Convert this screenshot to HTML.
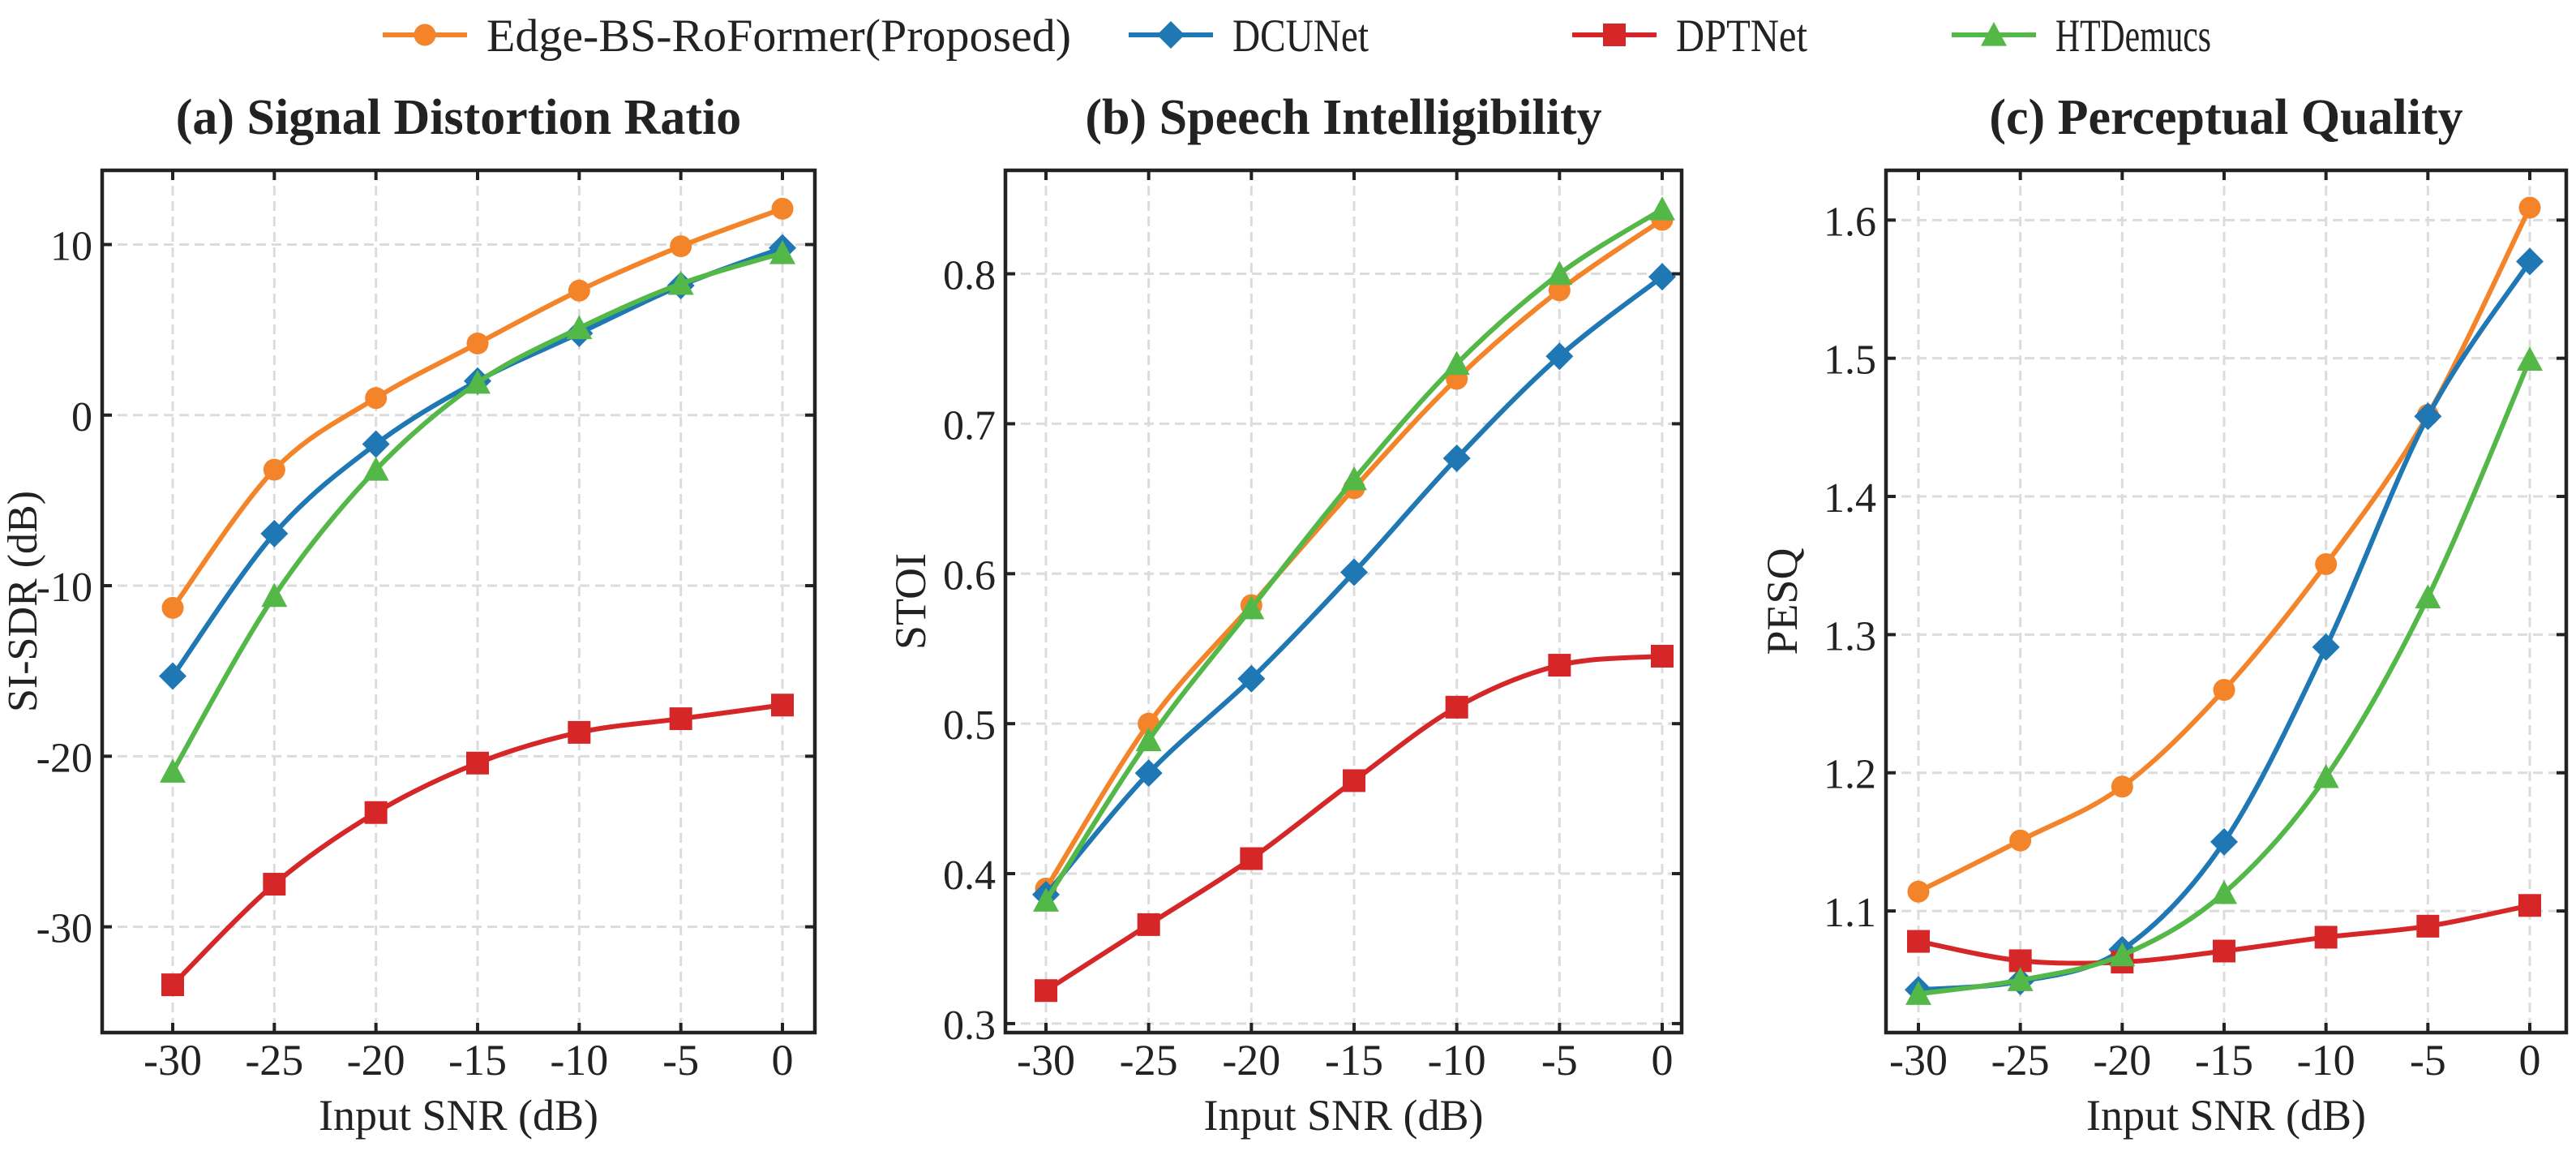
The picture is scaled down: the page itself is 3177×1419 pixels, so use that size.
<!DOCTYPE html>
<html><head><meta charset="utf-8">
<style>
html,body{margin:0;padding:0;background:#fff;}
svg{display:block;font-family:"Liberation Serif","DejaVu Serif",serif;}
</style></head>
<body>
<svg id="fig" width="3177" height="1419" viewBox="0 0 3177 1419" xmlns="http://www.w3.org/2000/svg">
<g id="legend"></g>
<g id="panels"></g>
</svg>
<script>
const snr = [-30, -25, -20, -15, -10, -5, 0];
const xTicks = ["-30", "-25", "-20", "-15", "-10", "-5", "0"];
const seriesNames = ["Edge-BS-RoFormer(Proposed)", "DCUNet", "DPTNet", "HTDemucs"];

const sdrProposed = [-11.3, -3.2, 1.0, 4.2, 7.3, 9.9, 12.1];
const sdrDCUNet   = [-15.3, -6.95, -1.7, 2.0, 4.8, 7.6, 9.8];
const sdrDPTNet   = [-33.4, -27.5, -23.3, -20.4, -18.6, -17.8, -17.0];
const sdrHTDemucs = [-20.9, -10.6, -3.2, 1.9, 5.1, 7.7, 9.5];
const sdrTicks = [-30, -20, -10, 0, 10];

const stoiProposed = [0.390, 0.500, 0.579, 0.657, 0.730, 0.789, 0.836];
const stoiDCUNet   = [0.386, 0.467, 0.530, 0.601, 0.677, 0.745, 0.798];
const stoiDPTNet   = [0.322, 0.366, 0.410, 0.462, 0.511, 0.539, 0.545];
const stoiHTDemucs = [0.382, 0.489, 0.577, 0.663, 0.740, 0.800, 0.843];
const stoiTicks = [0.3, 0.4, 0.5, 0.6, 0.7, 0.8];

const pesqProposed = [1.114, 1.151, 1.190, 1.260, 1.351, 1.459, 1.609];
const pesqDCUNet   = [1.043, 1.049, 1.072, 1.150, 1.291, 1.458, 1.570];
const pesqDPTNet   = [1.078, 1.064, 1.063, 1.071, 1.081, 1.089, 1.104];
const pesqHTDemucs = [1.040, 1.050, 1.068, 1.113, 1.197, 1.327, 1.499];
const pesqTicks = [1.1, 1.2, 1.3, 1.4, 1.5, 1.6];

const NS = "http://www.w3.org/2000/svg";
const colors = ["#f4842a", "#1f77b4", "#d62728", "#54b848"];
const markers = ["circle", "diamond", "square", "triangle"];
const keys = ["proposed", "dcunet", "dptnet", "htdemucs"];

function mk(tag, attrs, parent) {
  const e = document.createElementNS(NS, tag);
  for (const k in attrs) e.setAttribute(k, attrs[k]);
  if (parent) parent.appendChild(e);
  return e;
}

function markerShape(type, cx, cy, color, parent, scale) {
  const s = scale || 1;
  let e;
  if (type === "circle") {
    e = mk("circle", {cx: cx, cy: cy, r: 13.5 * s, fill: color}, parent);
  } else if (type === "square") {
    const h = 14 * s;
    e = mk("rect", {x: cx - h, y: cy - h, width: 2 * h, height: 2 * h, fill: color}, parent);
  } else if (type === "diamond") {
    const h = 17 * s;
    e = mk("polygon", {points: `${cx},${cy - h} ${cx + h},${cy} ${cx},${cy + h} ${cx - h},${cy}`, fill: color}, parent);
  } else {
    const h = 16 * s;
    e = mk("polygon", {points: `${cx},${cy - h} ${cx + h},${cy + h * 0.85} ${cx - h},${cy + h * 0.85}`, fill: color}, parent);
  }
  return e;
}

function smoothPath(pts) {
  let d = `M${pts[0][0]},${pts[0][1]}`;
  for (let i = 0; i < pts.length - 1; i++) {
    const p0 = pts[Math.max(0, i - 1)], p1 = pts[i], p2 = pts[i + 1], p3 = pts[Math.min(pts.length - 1, i + 2)];
    const c1x = p1[0] + (p2[0] - p0[0]) / 6, c1y = p1[1] + (p2[1] - p0[1]) / 6;
    const c2x = p2[0] - (p3[0] - p1[0]) / 6, c2y = p2[1] - (p3[1] - p1[1]) / 6;
    d += ` C${c1x},${c1y} ${c2x},${c2y} ${p2[0]},${p2[1]}`;
  }
  return d;
}

const panelsDef = [
  {id: "sdr", title: "(a) Signal Distortion Ratio", ylabel: "SI-SDR (dB)", left: 126, right: 1005, x0: 213, x1: 965,
   yMin: -36.2, yMax: 14.35, ticks: sdrTicks, fmt: v => String(v), series: [sdrProposed, sdrDCUNet, sdrDPTNet, sdrHTDemucs], ylabelX: 27, ylFont: 52},
  {id: "stoi", title: "(b) Speech Intelligibility", ylabel: "STOI", left: 1240, right: 2074, x0: 1290, x1: 2050,
   yMin: 0.294, yMax: 0.869, ticks: stoiTicks, fmt: v => v.toFixed(1), series: [stoiProposed, stoiDCUNet, stoiDPTNet, stoiHTDemucs], ylabelX: 1123, ylFont: 54},
  {id: "pesq", title: "(c) Perceptual Quality", ylabel: "PESQ", left: 2326, right: 3165, x0: 2366, x1: 3120,
   yMin: 1.012, yMax: 1.636, ticks: pesqTicks, fmt: v => v.toFixed(1), series: [pesqProposed, pesqDCUNet, pesqDPTNet, pesqHTDemucs], ylabelX: 2198, ylFont: 54}
];
const TOP = 210, BOTTOM = 1273;
const panelsG = document.getElementById("panels");

panelsDef.forEach(p => {
  const g = mk("g", {}, panelsG);
  
  
  const xs = v => p.x0 + (v - snr[0]) / (snr[snr.length - 1] - snr[0]) * (p.x1 - p.x0);
  const ys = v => BOTTOM - (v - p.yMin) / (p.yMax - p.yMin) * (BOTTOM - TOP);

  const grid = mk("g", {stroke: "#dcdcdc", "stroke-width": 3, "stroke-dasharray": "12,7"}, g);
  
  
  snr.forEach(v => mk("line", {x1: xs(v), x2: xs(v), y1: TOP, y2: BOTTOM}, grid));
  p.ticks.forEach(v => mk("line", {x1: p.left, x2: p.right, y1: ys(v), y2: ys(v)}, grid));

  p.series.forEach((vals, si) => {
    const sg = mk("g", {}, g);
    
    
    const pts = vals.map((v, i) => [xs(snr[i]), ys(v)]);
    mk("path", {d: smoothPath(pts), fill: "none", stroke: colors[si], "stroke-width": 6, "stroke-linejoin": "round"}, sg);
    pts.forEach((pt, i) => {
      const m = markerShape(markers[si], pt[0], pt[1], colors[si], sg);
      
      
    });
  });

  const fr = mk("rect", {x: p.left, y: TOP, width: p.right - p.left, height: BOTTOM - TOP, fill: "none", stroke: "#222", "stroke-width": 4.5}, g);
  
  

  const tk = mk("g", {stroke: "#222", "stroke-width": 4}, g);
  snr.forEach(v => {
    mk("line", {x1: xs(v), x2: xs(v), y1: BOTTOM, y2: BOTTOM - 12}, tk);
    mk("line", {x1: xs(v), x2: xs(v), y1: TOP, y2: TOP + 12}, tk);
  });
  p.ticks.forEach(v => {
    mk("line", {x1: p.left, x2: p.left + 12, y1: ys(v), y2: ys(v)}, tk);
    mk("line", {x1: p.right, x2: p.right - 12, y1: ys(v), y2: ys(v)}, tk);
  });

  snr.forEach((v, i) => {
    const t = mk("text", {x: xs(v), y: 1325, "text-anchor": "middle", "font-size": 54, fill: "#222"}, g);
    t.textContent = xTicks[i];
    
    
  });
  p.ticks.forEach(v => {
    const t = mk("text", {x: p.left - 12, y: ys(v) + 19, "text-anchor": "end", "font-size": 52, fill: "#222"}, g);
    t.textContent = p.fmt(v);
    
    
  });

  const xl = mk("text", {x: (p.left + p.right) / 2, y: 1393, "text-anchor": "middle", "font-size": 54, fill: "#222"}, g);
  xl.textContent = "Input SNR (dB)";
  
  
  const cy = (TOP + BOTTOM) / 2;
  const yl = mk("text", {x: p.ylabelX, y: cy, "text-anchor": "middle", "font-size": p.ylFont, fill: "#222", transform: `rotate(-90 ${p.ylabelX} ${cy}) translate(0 18)`}, g);
  yl.textContent = p.ylabel;
  
  
  const tt = mk("text", {x: (p.left + p.right) / 2, y: 165, "text-anchor": "middle", "font-size": 62, "font-weight": "bold", fill: "#222"}, g);
  tt.textContent = p.title;
  
  
});

const legendG = document.getElementById("legend");
const legendX = [472, 1392, 1939, 2407];
const legendTextLen = [721, 168, 162, 192];
seriesNames.forEach((name, i) => {
  const eg = mk("g", {}, legendG);
  
  
  const x = legendX[i], y = 43;
  mk("line", {x1: x, x2: x + 104, y1: y, y2: y, stroke: colors[i], "stroke-width": 6}, eg);
  markerShape(markers[i], x + 52, y, colors[i], eg);
  const t = mk("text", {x: x + 128, y: y + 20, "font-size": 57, fill: "#222", textLength: legendTextLen[i], lengthAdjust: "spacingAndGlyphs"}, eg);
  t.textContent = name;
});
</script>
</body></html>
